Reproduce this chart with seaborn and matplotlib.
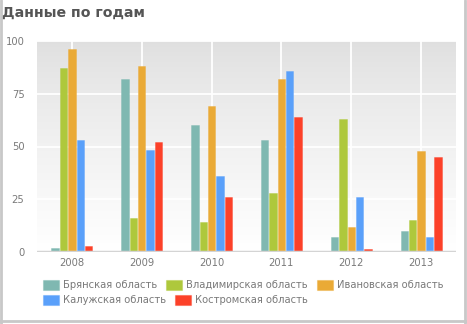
import numpy as np
import pandas as pd
import matplotlib
matplotlib.use("Agg")
import matplotlib.pyplot as plt
from matplotlib.lines import Line2D
from matplotlib.patches import Patch
import seaborn as sns

years = ["2008", "2009", "2010", "2011", "2012", "2013"]
regions = ["Брянская область", "Владимирская область", "Ивановская область",
           "Калужская область", "Костромская область"]
bryansk = [2, 82, 60, 53, 7, 10]
vladimir = [87, 16, 14, 28, 63, 15]
ivanovo = [96, 88, 69, 82, 12, 48]
kaluga = [53, 48.5, 36, 86, 26, 7]
kostroma = [3, 52, 26, 64, 1.5, 45]
colors = ["#7fb8b1", "#aec83c", "#eaaa36", "#5aa0fa", "#fc4129"]

series = [bryansk, vladimir, ivanovo, kaluga, kostroma]
df = pd.DataFrame({
    "year": np.repeat([years], len(regions), axis=0).ravel(),
    "region": np.repeat(regions, len(years)),
    "value": np.concatenate(series),
})

sns.set_theme(style="white")
plt.rcParams["font.family"] = ["DejaVu Sans"]

fig = plt.figure(figsize=(4.67, 3.24), dpi=100)
ax = fig.add_axes([37 / 467, 1 - 252 / 324, (456 - 37) / 467, (252 - 41) / 324])

# soft grey-to-white background gradient
grad = np.linspace(0, 1, 256) ** 0.8
grad = grad[:, None]
bg = np.dstack([0.875 + 0.125 * grad] * 3)
ax.imshow(bg, extent=[-0.5, 5.5, 0, 100], aspect="auto", origin="upper", zorder=0)

sns.barplot(data=df, x="year", y="value", hue="region", palette=colors,
            saturation=1, width=0.6, gap=0.12, ax=ax, legend=False, zorder=3,
            edgecolor="white", linewidth=0.6)
for patch, c in zip(ax.patches, np.repeat(colors, len(years))):
    patch.set_edgecolor(matplotlib.colors.to_rgba(c, 0.45))

ax.set_xlim(-0.5, 5.5)
ax.set_ylim(0, 100)
ax.set_yticks([0, 25, 50, 75, 100])
for y in [25, 50, 75, 100]:
    ax.axhline(y, color="white", lw=1.3, zorder=1)
for x in range(len(years)):
    ax.axvline(x, color="white", lw=1.3, zorder=1)
ax.axhline(0, color="#d4d4d4", lw=2.5, zorder=4)

for s in ax.spines.values():
    s.set_visible(False)
ax.set_xlabel("")
ax.set_ylabel("")
ax.tick_params(axis="both", length=0, colors="#7a7a7a", labelsize=7.2)
ax.tick_params(axis="y", pad=9)
ax.tick_params(axis="x", pad=4)

fig.text(2 / 467, 1 - 13 / 324, "Данные по годам", fontsize=10.2, fontweight="bold",
         color="#555555", va="center", ha="left")

# legend laid out in two flowing rows
handles = [Patch(facecolor=c, edgecolor=matplotlib.colors.to_rgba(c, 0.4), lw=0.8) for c in colors]
common = dict(frameon=False, fontsize=7.2, labelcolor="#7a7a7a", handlelength=1.6,
              handleheight=1.1, handletextpad=0.4, columnspacing=0.9, borderpad=0,
              borderaxespad=0)
leg1 = fig.legend(handles[:3], regions[:3], ncol=3, loc="center left",
                  bbox_to_anchor=(43 / 467, 1 - 285 / 324), **common)
leg2 = fig.legend(handles[3:], regions[3:], ncol=2, loc="center left",
                  bbox_to_anchor=(43 / 467, 1 - 300 / 324), **common)

# outer frame
fc = "#c8c8c8"
fig.add_artist(Line2D([1 / 467, 1 / 467], [0, 1], color=fc, lw=2, transform=fig.transFigure))
fig.add_artist(Line2D([465 / 467, 465 / 467], [0, 1], color=fc, lw=2, transform=fig.transFigure))
fig.add_artist(Line2D([0, 1], [1 - 321 / 324, 1 - 321 / 324], color=fc, lw=2, transform=fig.transFigure))

fig.savefig("out.png", dpi=100)
